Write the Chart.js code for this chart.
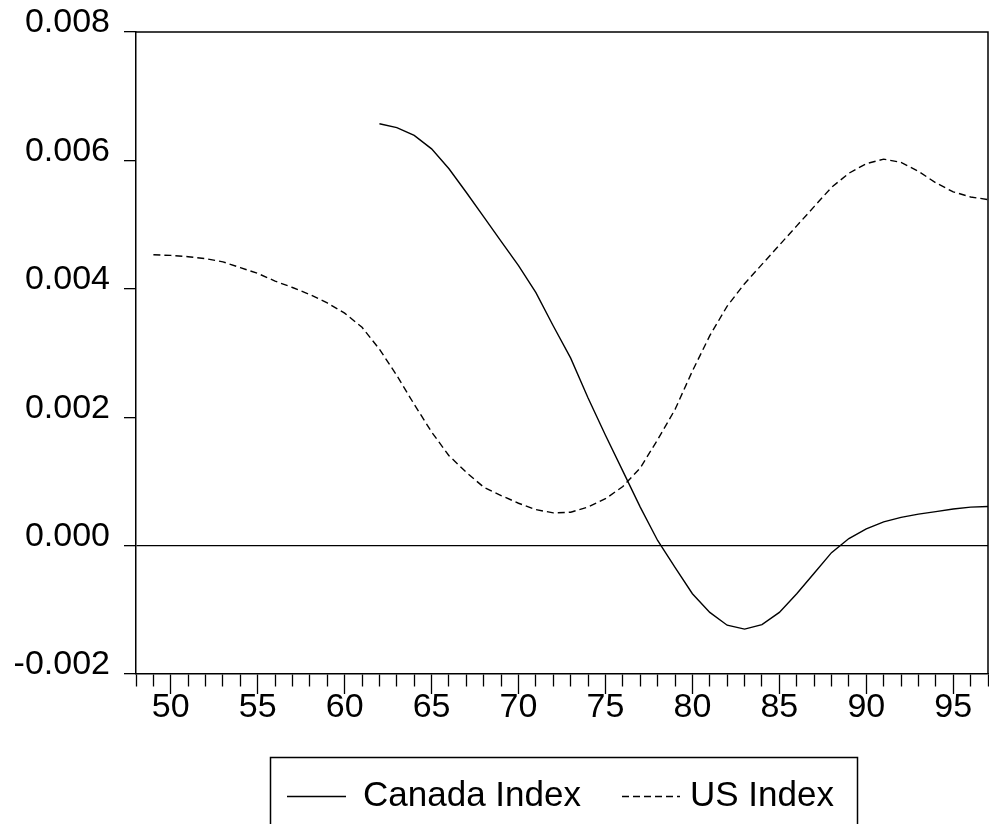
<!DOCTYPE html>
<html>
<head>
<meta charset="utf-8">
<script src="https://cdn.jsdelivr.net/npm/chart.js@4"></script>
<style>
  html, body { margin: 0; padding: 0; background: #ffffff; }
  canvas { display: block; }
</style>
</head>
<body>
<canvas id="chart" width="989" height="824"></canvas>
<script>
// Annual observations, 1948-1997 (two-digit years as shown on the axis)
const years = [
  '48','49','50','51','52','53','54','55','56','57',
  '58','59','60','61','62','63','64','65','66','67',
  '68','69','70','71','72','73','74','75','76','77',
  '78','79','80','81','82','83','84','85','86','87',
  '88','89','90','91','92','93','94','95','96','97'
];

// Years that carry a printed label on the horizontal axis
const labelledYears = ['50','55','60','65','70','75','80','85','90','95'];

// Vertical axis tick values
const yTickValues = [-0.002, 0.000, 0.002, 0.004, 0.006, 0.008];

// Canada Index: no observations before 1962
const canadaIndex = [
  null, null, null, null, null, null, null, null, null, null,
  null, null, null, null,
  0.00657, 0.00651, 0.00639, 0.00618, 0.00587, 0.00550,
  0.00512, 0.00474, 0.00436, 0.00394, 0.00342, 0.00292,
  0.00230, 0.00172, 0.00116, 0.00060, 0.00008, -0.00034,
  -0.00075, -0.00104, -0.00124, -0.00130, -0.00123, -0.00104,
  -0.00075, -0.00043, -0.00011, 0.00011, 0.00026, 0.00037,
  0.00044, 0.00049, 0.00053, 0.00057, 0.00060, 0.00061
];

// US Index: observations from 1949
const usIndex = [
  null,
  0.00453, 0.00452, 0.00450, 0.00447, 0.00442, 0.00433, 0.00424,
  0.00412, 0.00402, 0.00391, 0.00378, 0.00362, 0.00340, 0.00306,
  0.00265, 0.00220, 0.00177, 0.00140, 0.00114, 0.00091, 0.00078,
  0.00066, 0.00056, 0.00051, 0.00052, 0.00060, 0.00073, 0.00092,
  0.00121, 0.00165, 0.00212, 0.00272, 0.00327, 0.00373, 0.00408,
  0.00438, 0.00468, 0.00498, 0.00528, 0.00558, 0.00580, 0.00595,
  0.00602, 0.00597, 0.00583, 0.00565, 0.00551, 0.00543, 0.00539
];

const FAMILY = '"Liberation Sans", Arial, Helvetica, sans-serif';
const FONT = { family: FAMILY, size: 34 };
const INK = '#000000';

// Closes the plot frame on the top and right sides
const plotFrame = {
  id: 'plotFrame',
  afterDatasetsDraw(chart) {
    const { ctx, chartArea: a } = chart;
    ctx.save();
    ctx.strokeStyle = INK;
    ctx.lineWidth = 1.5;
    ctx.beginPath();
    ctx.moveTo(a.left, a.top);
    ctx.lineTo(a.right, a.top);
    ctx.lineTo(a.right, a.bottom);
    ctx.stroke();
    ctx.restore();
  }
};

// Boxed legend below the axis: line sample followed by the series name
const boxedLegend = {
  id: 'boxedLegend',
  afterDraw(chart) {
    const ctx = chart.ctx;
    const slots = [
      { x0: 287, x1: 346, tx: 363 },
      { x0: 622, x1: 680, tx: 690 }
    ];
    const midY = 796;
    ctx.save();
    ctx.strokeStyle = INK;
    ctx.lineWidth = 1.5;
    ctx.strokeRect(270.5, 757.5, 587, 120);
    ctx.font = '35px ' + FAMILY;
    ctx.fillStyle = INK;
    ctx.textBaseline = 'middle';
    ctx.textAlign = 'left';
    chart.data.datasets.forEach((ds, i) => {
      const s = slots[i];
      ctx.save();
      ctx.lineWidth = 1.3;
      ctx.setLineDash(ds.borderDash || []);
      ctx.beginPath();
      ctx.moveTo(s.x0, midY + 0.5);
      ctx.lineTo(s.x1, midY + 0.5);
      ctx.stroke();
      ctx.restore();
      ctx.fillText(ds.label, s.tx, midY);
    });
    ctx.restore();
  }
};

new Chart(document.getElementById('chart'), {
  type: 'line',
  data: {
    labels: years,
    datasets: [
      {
        label: 'Canada Index',
        data: canadaIndex,
        borderColor: INK,
        borderWidth: 1.4,
        pointRadius: 0,
        tension: 0,
        fill: false,
        spanGaps: false
      },
      {
        label: 'US Index',
        data: usIndex,
        borderColor: INK,
        borderWidth: 1.4,
        borderDash: [7, 4],
        pointRadius: 0,
        tension: 0,
        fill: false,
        spanGaps: false
      }
    ]
  },
  options: {
    responsive: false,
    animation: false,
    devicePixelRatio: 1,
    layout: { padding: { top: 32, right: 1, left: 0, bottom: 0 } },
    plugins: {
      legend: { display: false },
      tooltip: { enabled: false }
    },
    scales: {
      x: {
        type: 'category',
        offset: false,
        afterFit(scale) {
          scale.height = 150;
          scale.paddingLeft = 0;
          scale.paddingRight = 0;
        },
        border: { display: true, color: INK, width: 1.5 },
        grid: {
          drawOnChartArea: false,
          drawTicks: true,
          tickLength: 20,
          tickColor: INK,
          tickWidth: 1.3,
          // short marks for unlabelled years, long marks for labelled ones
          tickBorderDash: (c) => {
            const lab = years[c.index];
            return labelledYears.includes(lab) ? [] : [12, 200];
          }
        },
        ticks: {
          autoSkip: false,
          maxRotation: 0,
          minRotation: 0,
          padding: -7,
          color: INK,
          font: FONT,
          callback(value, index) {
            const lab = years[index];
            return labelledYears.includes(lab) ? lab : '';
          }
        }
      },
      y: {
        type: 'linear',
        min: -0.002,
        max: 0.008,
        afterFit(scale) {
          scale.width = 136;
          scale.paddingTop = 0;
          scale.paddingBottom = 0;
        },
        afterBuildTicks(scale) {
          scale.ticks = yTickValues.map(v => ({ value: v }));
        },
        border: { display: true, color: INK, width: 1.5 },
        grid: {
          drawOnChartArea: true,
          drawTicks: true,
          tickLength: 12,
          tickColor: INK,
          tickWidth: 1.3,
          lineWidth: 1.3,
          // only the zero level is drawn across the plot
          color: (c) => (c.tick && Math.abs(c.tick.value) < 1e-9) ? INK : 'rgba(0,0,0,0)'
        },
        ticks: {
          padding: 14,
          labelOffset: -9,
          color: INK,
          font: FONT,
          callback(value) { return Number(value).toFixed(3); }
        }
      }
    }
  },
  plugins: [plotFrame, boxedLegend]
});
</script>
</body>
</html>
